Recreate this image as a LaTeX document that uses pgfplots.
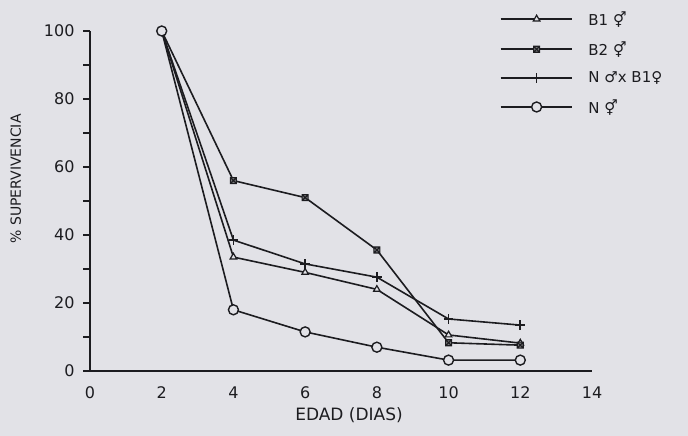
\documentclass[border=0pt]{standalone}
\usepackage{fontspec}
\setmainfont{DejaVu Sans}
\usepackage{pgfplots}
\pgfplotsset{compat=1.18}
\definecolor{paper}{RGB}{226,226,231}
\definecolor{ink}{RGB}{28,28,32}

% square with both diagonals, as drawn for B2
\pgfdeclareplotmark{boxx}{%
  \pgfpathrectangle{\pgfpoint{-\pgfplotmarksize}{-\pgfplotmarksize}}{\pgfpoint{2\pgfplotmarksize}{2\pgfplotmarksize}}%
  \pgfpathmoveto{\pgfpoint{-\pgfplotmarksize}{-\pgfplotmarksize}}\pgfpathlineto{\pgfpoint{\pgfplotmarksize}{\pgfplotmarksize}}%
  \pgfpathmoveto{\pgfpoint{-\pgfplotmarksize}{\pgfplotmarksize}}\pgfpathlineto{\pgfpoint{\pgfplotmarksize}{-\pgfplotmarksize}}%
  \pgfusepathqfillstroke}

\begin{document}
\begin{tikzpicture}
\useasboundingbox (0,0) rectangle (688pt,436pt);
\fill[paper] (0,0) rectangle (688pt,436pt);
\begin{axis}[
    at={(90pt,65pt)}, anchor=origin,
    scale only axis, width=502pt, height=340pt,
    xmin=0, xmax=14, ymin=0, ymax=100,
    axis lines=left, axis line style={ink, line width=1.8pt, -},
    xtick={0,2,...,14}, ytick={0,20,...,100},
    minor ytick={10,30,50,70,90},
    x tick style={draw=none},
    y tick style={ink, line width=1.4pt},
    tick align=outside, major tick length=7pt, minor tick length=7pt,
    tick label style={font=\fontsize{16}{16}\selectfont, text=ink},
    /pgf/number format/assume math mode=true,
    xticklabel style={yshift=-5pt},
    yticklabel style={xshift=-5pt},
    xlabel={EDAD (DIAS)}, ylabel={\% SUPERVIVENCIA},
    xlabel style={font=\fontsize{17}{17}\selectfont, text=ink, yshift=-2pt, xshift=8pt},
    ylabel style={font=\fontsize{14}{14}\selectfont, text=ink, yshift=16pt, xshift=22pt},
    every axis plot/.append style={ink, line width=1.6pt},
    legend image code/.code={%
        \draw[line width=1.6pt, mark repeat=2, mark phase=2] plot coordinates {(0pt,0pt) (36pt,0pt) (71pt,0pt)};},
    legend style={at={(0.81,1.07)}, anchor=north west, draw=none, fill=none,
        font=\fontsize{15}{15}\selectfont, text=ink, row sep=11pt,
        /tikz/every odd column/.append style={column sep=14pt}},
    legend cell align=left,
    clip=false,
]
\addplot[mark=triangle*, mark size=3.8pt, mark options={fill=paper, solid, line width=1.2pt}] coordinates {
    (2,100) (4,33.5) (6,29) (8,24) (10,10.6) (12,8.2)
};
\addlegendentry{B1 ⚥}
\addplot[mark=boxx, mark size=3pt, mark options={fill=ink!60, line width=1.1pt}] coordinates {
    (2,100) (4,56) (6,51) (8,35.6) (10,8.3) (12,7.6)
};
\addlegendentry{B2 ⚥}
\addplot[mark=+, mark size=4.8pt] coordinates {
    (2,100) (4,38.5) (6,31.5) (8,27.6) (10,15.3) (12,13.5)
};
\addlegendentry{N ♂x B1♀}
\addplot[mark=*, mark size=5pt, mark options={fill=paper, line width=1.4pt}] coordinates {
    (2,100) (4,18) (6,11.5) (8,7) (10,3.2) (12,3.2)
};
\addlegendentry{N ⚥}
\end{axis}
\end{tikzpicture}
\end{document}
